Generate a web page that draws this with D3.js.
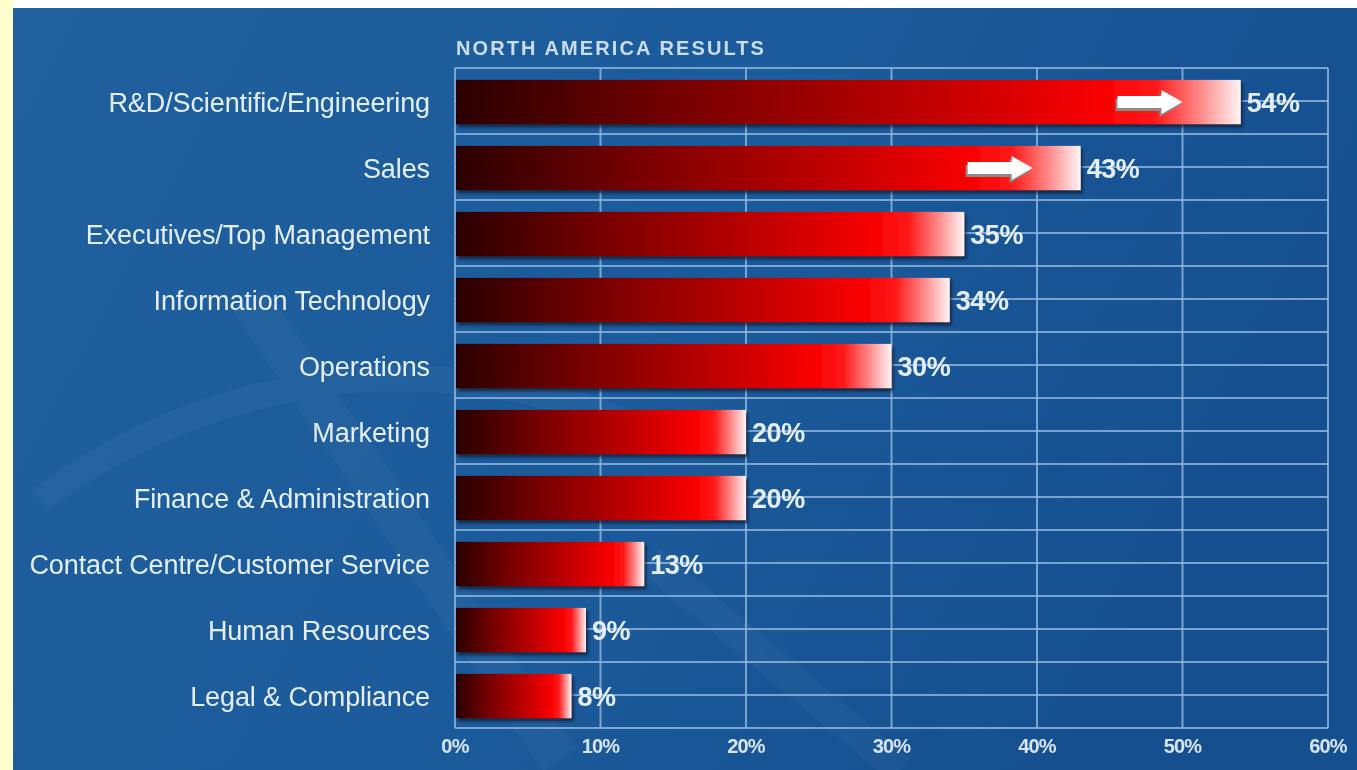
<!DOCTYPE html>
<html>
<head>
<meta charset="utf-8">
<script src="https://cdn.jsdelivr.net/npm/d3@7"></script>
<style>
  html, body { margin: 0; padding: 0; background: #ffffff; }
  svg { display: block; }
</style>
</head>
<body>
<svg id="chart" width="1357" height="770"></svg>
<script>
// Survey results by job function (percent of respondents)
const categories = [
  "R&D/Scientific/Engineering",
  "Sales",
  "Executives/Top Management",
  "Information Technology",
  "Operations",
  "Marketing",
  "Finance & Administration",
  "Contact Centre/Customer Service",
  "Human Resources",
  "Legal & Compliance"
];
const values = [54, 43, 35, 34, 30, 20, 20, 13, 9, 8];
const tickValues = [0, 10, 20, 30, 40, 50, 60];
const title = "NORTH AMERICA RESULTS";
// highlight arrows: category and the value the arrow tip points at
const arrowCats = ["R&D/Scientific/Engineering", "Sales"];
const arrowTips = [50, 39.7];

const data = categories.map((c, i) => ({ cat: c, val: values[i] }));

const svg = d3.select("#chart");
const W = 1357, H = 770;
const margin = { left: 455, right: 29, top: 68, bottom: 42 };

const defs = svg.append("defs");

// panel background
const bg = defs.append("linearGradient").attr("id", "bgGrad")
  .attr("x1", 0).attr("y1", 0).attr("x2", 1).attr("y2", 0.3);
bg.append("stop").attr("offset", "0%").attr("stop-color", "#21609e");
bg.append("stop").attr("offset", "55%").attr("stop-color", "#1c5b9b");
bg.append("stop").attr("offset", "100%").attr("stop-color", "#154f90");

// bar fill: dark maroon to bright red, fading to white at the tip
const bar = defs.append("linearGradient").attr("id", "barGrad")
  .attr("x1", 0).attr("y1", 0).attr("x2", 1).attr("y2", 0);
[["0%", "#2a0002"], ["28%", "#750000"], ["60%", "#c00000"], ["82%", "#f80000"],
 ["89%", "#ff1818"], ["95%", "#ff8c8c"], ["100%", "#fff4f6"]].forEach(([o, c]) =>
  bar.append("stop").attr("offset", o).attr("stop-color", c));

const shadow = defs.append("filter").attr("id", "barShadow")
  .attr("x", "-5%").attr("y", "-20%").attr("width", "115%").attr("height", "160%");
shadow.append("feDropShadow").attr("dx", 2).attr("dy", 3).attr("stdDeviation", 1.5)
  .attr("flood-color", "#08162e").attr("flood-opacity", 0.8);

const soft = defs.append("filter").attr("id", "soft");
soft.append("feGaussianBlur").attr("stdDeviation", 0.35);

// page frame
svg.append("rect").attr("x", 0).attr("y", 0).attr("width", 13).attr("height", H).attr("fill", "#ffffcc");
svg.append("rect").attr("x", 13).attr("y", 8).attr("width", W - 13).attr("height", H - 8).attr("fill", "url(#bgGrad)");

// faint decorative sweep in the backdrop
const deco = svg.append("g").attr("opacity", 0.035).attr("fill", "none").attr("stroke", "#cfe4ff");
deco.append("path").attr("d", "M40,500 C200,380 420,340 620,420").attr("stroke-width", 26);
deco.append("path").attr("d", "M250,300 L560,760").attr("stroke-width", 40);
deco.append("path").attr("d", "M650,560 L900,770").attr("stroke-width", 30);

const x = d3.scaleLinear().domain([0, 60]).range([margin.left, W - margin.right]);
const y = d3.scaleBand().domain(categories).range([margin.top, H - margin.bottom]).padding(0);
const step = y.step();
const barH = step * 0.67;

// grid: lines at row boundaries and row centres, plus percentage verticals
const gridColor = "#93b8de";
const grid = svg.append("g").attr("stroke", gridColor).attr("stroke-opacity", 0.8).attr("stroke-width", 2);
const hLines = [];
categories.forEach(c => { hLines.push(y(c)); hLines.push(y(c) + step / 2); });
hLines.push(y(categories[categories.length - 1]) + step);
grid.selectAll("line.h").data(hLines).join("line").attr("class", "h")
  .attr("x1", x(0)).attr("x2", x(60)).attr("y1", d => d).attr("y2", d => d);
grid.selectAll("line.v").data(tickValues).join("line").attr("class", "v")
  .attr("x1", d => x(d)).attr("x2", d => x(d))
  .attr("y1", margin.top).attr("y2", H - margin.bottom);

// bars
svg.append("g").selectAll("rect").data(data).join("rect")
  .attr("x", x(0) + 1)
  .attr("y", d => y(d.cat) + (step - barH) / 2 + 1)
  .attr("width", d => x(d.val) - x(0) - 1)
  .attr("height", barH)
  .attr("fill", "url(#barGrad)")
  .attr("filter", "url(#barShadow)");

// arrows marking the leading functions
const arrowData = arrowCats.map((c, i) => ({ cat: c, tip: arrowTips[i] }));
const arrowPath = (tx, cy) => {
  const len = 65, head = 21, shaft = 6, hh = 12;
  return `M${tx - len},${cy - shaft} L${tx - head},${cy - shaft} L${tx - head},${cy - hh}` +
         ` L${tx},${cy} L${tx - head},${cy + hh} L${tx - head},${cy + shaft} L${tx - len},${cy + shaft} Z`;
};
const arrows = svg.append("g");
arrows.selectAll("path.sh").data(arrowData).join("path").attr("class", "sh")
  .attr("d", d => arrowPath(x(d.tip) - 2, y(d.cat) + step / 2 + 4))
  .attr("fill", "#8a8a8a");
arrows.selectAll("path.ar").data(arrowData).join("path").attr("class", "ar")
  .attr("d", d => arrowPath(x(d.tip), y(d.cat) + step / 2 + 1))
  .attr("fill", "#ffffff");

const textFill = "#e4effb";
const textG = svg.append("g").attr("filter", "url(#soft)");

// value labels
textG.selectAll("text.val").data(data).join("text").attr("class", "val")
  .attr("x", d => x(d.val) + 6)
  .attr("y", d => y(d.cat) + step / 2 + 4)
  .attr("dominant-baseline", "middle")
  .attr("font-family", "Liberation Sans, Arial, sans-serif")
  .attr("font-weight", "bold")
  .attr("font-size", 27)
  .attr("letter-spacing", -0.4)
  .attr("fill", textFill)
  .text(d => d.val + "%");

// category labels
textG.selectAll("text.cat").data(categories).join("text").attr("class", "cat")
  .attr("x", 430)
  .attr("y", d => y(d) + step / 2 + 4)
  .attr("text-anchor", "end")
  .attr("dominant-baseline", "middle")
  .attr("font-family", "Liberation Sans, Arial, sans-serif")
  .attr("font-size", 27)
  .attr("letter-spacing", -0.1)
  .attr("fill", textFill)
  .text(d => d);

// x axis tick labels
textG.selectAll("text.tick").data(tickValues).join("text").attr("class", "tick")
  .attr("x", d => x(d))
  .attr("y", 748)
  .attr("text-anchor", "middle")
  .attr("dominant-baseline", "middle")
  .attr("font-family", "Liberation Sans, Arial, sans-serif")
  .attr("font-weight", "bold")
  .attr("font-size", 20)
  .attr("letter-spacing", -0.8)
  .attr("fill", "#d6e6f6")
  .text(d => d + "%");

// title
textG.append("text")
  .attr("x", 456).attr("y", 55)
  .attr("font-family", "Liberation Sans, Arial, sans-serif")
  .attr("font-weight", "bold")
  .attr("font-size", 20)
  .attr("letter-spacing", 2.1)
  .attr("fill", "#c9def3")
  .text(title);
</script>
</body>
</html>
